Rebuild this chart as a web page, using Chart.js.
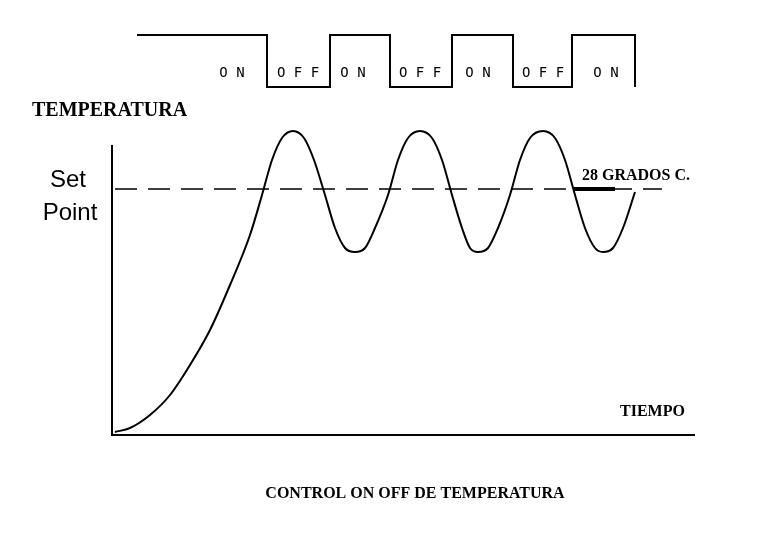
<!DOCTYPE html>
<html>
<head>
<meta charset="utf-8">
<script src="https://cdn.jsdelivr.net/npm/chart.js@4.4.0/dist/chart.umd.min.js"></script>
<style>
  html, body { margin: 0; padding: 0; background: #fff; }
  #wrap { width: 762px; height: 560px; }
</style>
</head>
<body>
<div id="wrap"><canvas id="c"></canvas></div>
<script>
// Diagram units: x = time (0..762), y = level (0..560, top down)
const tempX = [115,130,150,170,190,210,230,250,262,272,282,293,304,314,325,335,345,355,365,375,388,398,408,420,432,442,452,462,470,478,488,498,510,520,530,543,555,565,575,585,595,603,613,623,635];
const tempY = [432,428,415,395,365,330,285,235,195,160,138,131,138,160,195,228,248,252,248,228,195,160,138,131,138,160,195,228,248,252,248,228,195,160,138,131,138,160,195,228,248,252,248,228,192];

const switchX = [137,267,267,330,330,390,390,452,452,513,513,572,572,635,635];
const switchY = [35,35,87,87,35,35,87,87,35,35,87,87,35,35,87];
const switchLabels = ['ON','OFF','ON','OFF','ON','OFF','ON'];
const switchLabelX = [232,298,353,420,478,543,606];

const setPoint = 189;
const axisX = [112,112,695];
const axisY = [145,435,435];

const pts = (xs, ys) => xs.map((x, i) => ({ x, y: ys[i] }));

const textPlugin = {
  id: 'texts',
  afterDraw(chart) {
    const { ctx, scales: { x, y } } = chart;
    ctx.save();
    ctx.fillStyle = '#000';
    ctx.textBaseline = 'middle';
    ctx.font = '14px "DejaVu Sans Mono", monospace';
    ctx.textAlign = 'center';
    switchLabels.forEach((t, i) => {
      ctx.fillText(t.split('').join(' '), x.getPixelForValue(switchLabelX[i]), y.getPixelForValue(73));
    });
    ctx.textAlign = 'left';
    ctx.font = 'bold 20px "Liberation Serif", serif';
    ctx.fillText('TEMPERATURA', x.getPixelForValue(32), y.getPixelForValue(111));
    ctx.font = '24px "Liberation Sans", sans-serif';
    ctx.textAlign = 'center';
    ctx.fillText('Set', x.getPixelForValue(68), y.getPixelForValue(180));
    ctx.fillText('Point', x.getPixelForValue(70), y.getPixelForValue(213));
    ctx.textAlign = 'left';
    ctx.font = 'bold 16px "Liberation Serif", serif';
    ctx.fillText('28 GRADOS C.', x.getPixelForValue(582), y.getPixelForValue(176));
    ctx.fillText('TIEMPO', x.getPixelForValue(620), y.getPixelForValue(412));
    ctx.textAlign = 'center';
    ctx.fillText('CONTROL ON OFF DE TEMPERATURA', x.getPixelForValue(415), y.getPixelForValue(494));
    ctx.restore();
  }
};

new Chart(document.getElementById('c'), {
  type: 'scatter',
  data: {
    datasets: [
      { data: pts(tempX, tempY), showLine: true, borderColor: '#000', borderWidth: 2, pointRadius: 0, tension: 0.4, cubicInterpolationMode: 'monotone' },
      { data: pts(switchX, switchY), showLine: true, borderColor: '#000', borderWidth: 2, pointRadius: 0, tension: 0 },
      { data: pts(axisX, axisY), showLine: true, borderColor: '#000', borderWidth: 2, pointRadius: 0, tension: 0 },
      { data: [{ x: 115, y: setPoint }, { x: 662, y: setPoint }], showLine: true, borderColor: '#000', borderWidth: 1.5, borderDash: [22, 11], pointRadius: 0 },
      { data: [{ x: 573, y: setPoint }, { x: 615, y: setPoint }], showLine: true, borderColor: '#000', borderWidth: 4, pointRadius: 0 }
    ]
  },
  options: {
    responsive: true,
    maintainAspectRatio: false,
    animation: false,
    layout: { padding: 0 },
    plugins: { legend: { display: false }, tooltip: { enabled: false } },
    scales: {
      x: { type: 'linear', min: 0, max: 762, display: false },
      y: { type: 'linear', min: 0, max: 560, reverse: true, display: false }
    }
  },
  plugins: [textPlugin]
});
</script>
</body>
</html>
